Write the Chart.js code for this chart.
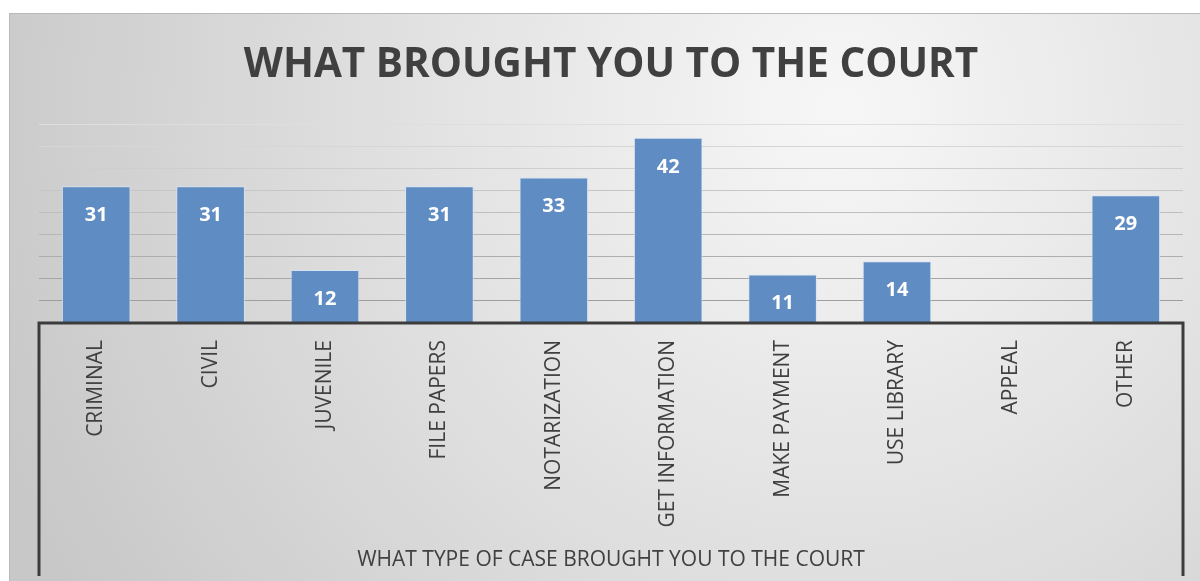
<!DOCTYPE html>
<html>
<head>
<meta charset="utf-8">
<script src="https://cdn.jsdelivr.net/npm/chart.js@4.4.1/dist/chart.umd.min.js"></script>
<style>
  html, body { margin: 0; padding: 0; background: #fff; }
  #courtChart { display: block; }
</style>
</head>
<body>
<canvas id="courtChart" width="1200" height="581"></canvas>
<script>
const categories = [
  "CRIMINAL", "CIVIL", "JUVENILE", "FILE PAPERS", "NOTARIZATION",
  "GET INFORMATION", "MAKE PAYMENT", "USE LIBRARY", "APPEAL", "OTHER"
];
const counts = [31, 31, 12, 31, 33, 42, 11, 14, null, 29];
const chartTitle = "WHAT BROUGHT YOU TO THE COURT";
const xAxisTitle = "WHAT TYPE OF CASE BROUGHT YOU TO THE COURT";

// gray gradient panel behind everything
const panelBackground = {
  id: "panelBackground",
  beforeDraw(chart) {
    const ctx = chart.ctx;
    ctx.save();
    ctx.fillStyle = "#fff";
    ctx.fillRect(0, 0, chart.width, chart.height);
    const g = ctx.createRadialGradient(840, 110, 20, 840, 110, 900);
    g.addColorStop(0, "#f6f6f6");
    g.addColorStop(0.45, "#e2e2e2");
    g.addColorStop(1, "#c8c8c8");
    ctx.fillStyle = g;
    ctx.fillRect(9, 13, chart.width - 9, chart.height - 13);
    ctx.strokeStyle = "#b9b9b9";
    ctx.lineWidth = 1;
    ctx.beginPath();
    ctx.moveTo(9.5, chart.height);
    ctx.lineTo(9.5, 13.5);
    ctx.lineTo(chart.width, 13.5);
    ctx.stroke();
    ctx.restore();
  }
};

// dark open box round the category axis
const axisBox = {
  id: "axisBox",
  afterDraw(chart) {
    const x = chart.scales.x;
    const ctx = chart.ctx;
    ctx.save();
    ctx.strokeStyle = "#3c3c3c";
    ctx.lineWidth = 3;
    ctx.beginPath();
    ctx.moveTo(x.left, x.bottom);
    ctx.lineTo(x.left, x.top);
    ctx.lineTo(x.right, x.top);
    ctx.lineTo(x.right, x.bottom);
    ctx.stroke();
    ctx.restore();
  }
};

// white value labels inside the bar tops
const valueLabels = {
  id: "valueLabels",
  afterDatasetsDraw(chart) {
    const ctx = chart.ctx;
    const meta = chart.getDatasetMeta(0);
    ctx.save();
    ctx.fillStyle = "#fff";
    ctx.font = "bold 20px 'Open Sans'";
    ctx.textAlign = "center";
    ctx.textBaseline = "middle";
    meta.data.forEach((bar, i) => {
      const v = counts[i];
      if (v === null || v === undefined) return;
      ctx.fillText(String(v), bar.x, bar.y + 29);
    });
    ctx.restore();
  }
};

new Chart(document.getElementById("courtChart"), {
  type: "bar",
  data: {
    labels: categories,
    datasets: [{
      label: "Count",
      data: counts,
      backgroundColor: "#5f8cc3",
      borderColor: "rgba(214,227,244,0.9)",
      borderWidth: 1,
      barPercentage: 0.6,
      categoryPercentage: 1.0
    }]
  },
  options: {
    responsive: false,
    animation: false,
    layout: { padding: { top: 13, left: 39, right: 17, bottom: 5 } },
    plugins: {
      legend: { display: false },
      tooltip: { enabled: false },
      title: {
        display: true,
        text: chartTitle,
        color: "#404040",
        font: { family: "'Open Sans'", size: 40.5, weight: "bold" },
        padding: { top: 28, bottom: 35 }
      }
    },
    scales: {
      x: {
        grid: { display: false },
        border: { display: false },
        ticks: {
          autoSkip: false,
          minRotation: 90,
          maxRotation: 90,
          padding: 9,
          color: "#404040",
          font: { family: "'Open Sans'", size: 21 }
        },
        title: {
          display: true,
          text: xAxisTitle,
          color: "#404040",
          font: { family: "'Open Sans'", size: 21 },
          padding: { top: 4, bottom: 3 }
        },
        afterFit(scale) { scale.height = 253; }
      },
      y: {
        min: 0,
        max: 45,
        ticks: { stepSize: 5, display: false },
        border: { display: false },
        grid: {
          drawTicks: false,
          lineWidth: 1,
          color(ctx) {
            const v = ctx.tick ? ctx.tick.value : 0;
            // lower lines darker, upper lines fade out
            const shade = Math.round(150 + v * 1.6);
            return "rgb(" + shade + "," + shade + "," + shade + ")";
          }
        },
        afterFit(scale) { scale.width = 0; }
      }
    }
  },
  plugins: [panelBackground, axisBox, valueLabels]
});
</script>
</body>
</html>
